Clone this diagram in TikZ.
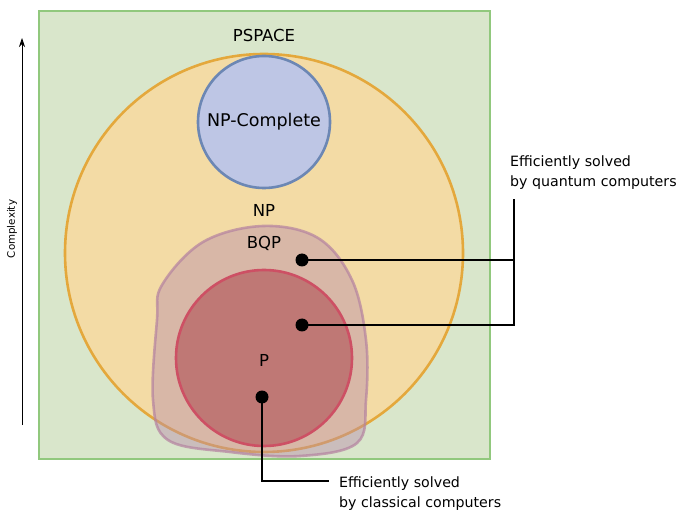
\documentclass[tikz,border=0pt]{standalone}
\usepackage{fontspec}
\setmainfont{DejaVu Sans}
\usetikzlibrary{arrows.meta}
\definecolor{spacefill}{RGB}{217,230,203}
\definecolor{spaceline}{RGB}{145,200,125}
\definecolor{npfill}{RGB}{243,219,165}
\definecolor{npline}{RGB}{228,168,60}
\definecolor{npcfill}{RGB}{190,198,229}
\definecolor{npcline}{RGB}{108,135,180}
\definecolor{bqpfill}{RGB}{185,140,170}
\definecolor{bqpline}{RGB}{180,130,160}
\definecolor{pfill}{RGB}{191,120,117}
\definecolor{pline}{RGB}{205,80,100}
\begin{document}
\begin{tikzpicture}[
        x=1pt, y=-1pt,
        region/.style={line width=2.6pt},
        classname/.style={font=\fontsize{16.5}{19}\selectfont, inner sep=0pt},
        dotn/.style={circle, fill=black, minimum size=13pt, inner sep=0pt},
        note/.style={font=\fontsize{14.2}{20}\selectfont, align=left, anchor=north west, inner sep=0pt},
        leader/.style={draw, line width=1.2pt},
    ]
    \useasboundingbox (0,0) rectangle (678,513);
    % classes
    \draw[region, draw=spaceline, fill=spacefill] (39,11) rectangle (490,459);
    \draw[region, draw=npline, fill=npfill] (264,253) circle (199);
    \draw[region, draw=npcline, fill=npcfill] (264,122) circle (66);
    \draw[region, draw=bqpline, fill=bqpfill, fill opacity=0.45, draw opacity=0.7]
        plot[smooth cycle, tension=0.6] coordinates {(263,226) (318,238) (352,280) (366,340)
        (366,400) (357,443) (300,456) (230,452) (168,440) (153,400) (157,320) (162,285) (203,242)};
    \draw[region, draw=pline, fill=pfill] (264,358) circle (88);
    % labels
    \node[classname] (pspace) at (264,35) {PSPACE};
    \node[classname, font=\fontsize{17.5}{20}\selectfont] (npc) at (264,122) {NP-Complete};
    \node[classname] (np) at (264,210) {NP};
    \node[classname] (bqp) at (264,243) {BQP};
    \node[classname] (p) at (264,360) {P};
    % complexity axis
    \draw[-{Stealth[length=9pt,width=6pt]}, line width=0.8pt] (22,425) coordinate (axlow) -- (22,38) coordinate (axhigh);
    \node[rotate=90, font=\fontsize{10.3}{12}\selectfont] (cplx) at (12,229) {Complexity};
    % dots and notes
    \node[dotn] (d1) at (302,260) {};
    \node[dotn] (d2) at (302,325) {};
    \node[dotn] (d3) at (262,397) {};
    \node[note] (quantum) at (510,156) {Efficiently solved\\by quantum computers};
    \node[note] (classical) at (339,477) {Efficiently solved\\by classical computers};
    \coordinate (qtop) at (514,199);
    \coordinate (qmid) at (514,260);
    \coordinate (qlow) at (514,325);
    \coordinate (cbend) at (262,481);
    \coordinate (cend) at (329,481);
    \path[leader] (d1.center) -- (qmid);
    \path[leader] (d2.center) -- (qlow) -- (qtop);
    \path[leader] (d3.center) -- (cbend) -- (cend);
    \end{tikzpicture}
\end{document}
